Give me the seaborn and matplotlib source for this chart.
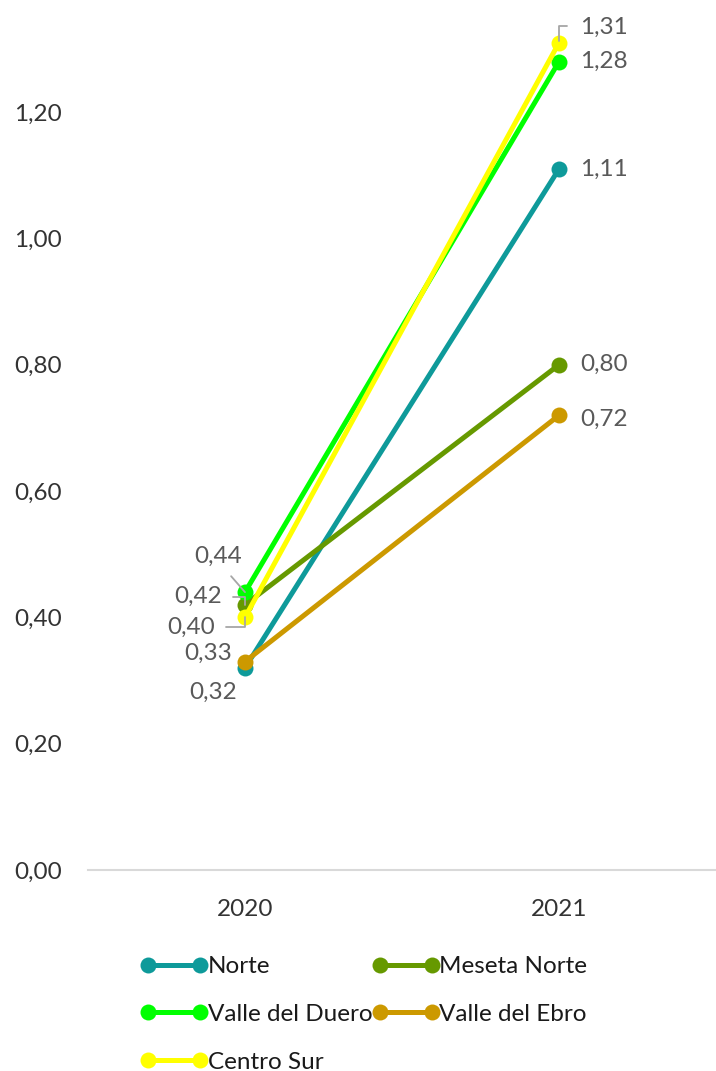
import numpy as np
import pandas as pd
import matplotlib
matplotlib.use("Agg")
import matplotlib.pyplot as plt
import seaborn as sns

# data
years = ["2020", "2021"]
regions = ["Norte", "Meseta Norte", "Valle del Duero", "Valle del Ebro", "Centro Sur"]
norte = [0.32, 1.11]
meseta_norte = [0.42, 0.80]
valle_duero = [0.44, 1.28]
valle_ebro = [0.33, 0.72]
centro_sur = [0.40, 1.31]
colors = ["#0E9A9A", "#669900", "#00FF00", "#CC9900", "#FFFF00"]

series = [norte, meseta_norte, valle_duero, valle_ebro, centro_sur]
rows = []
for name, vals in zip(regions, series):
    for yr, v in zip(years, vals):
        rows.append({"year": yr, "value": v, "region": name})
df = pd.DataFrame(rows)

sns.set_theme(style="white")
plt.rcParams["font.family"] = ["Lato", "DejaVu Sans"]

fig = plt.figure(figsize=(7.16, 10.71), dpi=100)
ax = fig.add_axes([88 / 716, 1 - 870 / 1071, 1 - 88 / 716, 870 / 1071])

sns.lineplot(data=df, x="year", y="value", hue="region", hue_order=regions,
             palette=colors, marker="o", markersize=11.5, markeredgewidth=0,
             linewidth=3.6, ax=ax, legend=True)

ax.set_xlim(-0.5, 1.5)
ax.set_ylim(0, 870 / (126.3 / 0.2))
ticks = np.arange(0, 1.21, 0.2)
ax.set_yticks(ticks)
ax.set_yticklabels([f"{t:.2f}".replace(".", ",") for t in ticks])
ax.set_xlabel("")
ax.set_ylabel("")
ax.tick_params(axis="y", length=0, pad=19, labelsize=17.5, labelcolor="#333333")
ax.tick_params(axis="x", length=0, pad=21, labelsize=17.5, labelcolor="#333333")
for s in ["left", "right", "top"]:
    ax.spines[s].set_visible(False)
ax.spines["bottom"].set_color("#d9d9d9")
ax.spines["bottom"].set_linewidth(1.5)

# data labels: offset (pixels, up is positive) from the point
offsets = {
    ("Norte", 0): (-32, -24), ("Norte", 1): (45, 0),
    ("Meseta Norte", 0): (-47, 8), ("Meseta Norte", 1): (45, 0),
    ("Valle del Duero", 0): (-27, 36), ("Valle del Duero", 1): (45, 0),
    ("Valle del Ebro", 0): (-37, 8), ("Valle del Ebro", 1): (45, -4),
    ("Centro Sur", 0): (-54, -10), ("Centro Sur", 1): (45, 15),
}
# leader lines: (relpos on text, connection style, shrinkA, shrinkB)
leaders = {
    ("Valle del Duero", 0): ((0.6, 0.0), "arc3", 6, 0),
    ("Meseta Norte", 0): ((1.0, 0.5), "angle,angleA=0,angleB=90,rad=0", 6, 0),
    ("Centro Sur", 0): ((1.0, 0.5), "angle,angleA=0,angleB=90,rad=0", 6, 0),
    ("Centro Sur", 1): ((0.0, 0.6), "angle,angleA=0,angleB=90,rad=0", 7, 1),
}
for name, vals in zip(regions, series):
    for i, v in enumerate(vals):
        dx, dy = offsets[(name, i)]
        kw = {}
        if (name, i) in leaders:
            rp, cs, sa, sb = leaders[(name, i)]
            kw["arrowprops"] = dict(arrowstyle="-", color="#a6a6a6", lw=1.3,
                                    relpos=rp, connectionstyle=cs,
                                    shrinkA=sa, shrinkB=sb)
        ax.annotate(f"{v:.2f}".replace(".", ","), xy=(i, v), xytext=(dx, dy),
                    textcoords="offset pixels", ha="center", va="center",
                    fontsize=17.5, color="#595959", annotation_clip=False, **kw)

handles, labels = ax.get_legend_handles_labels()
ax.get_legend().remove()
order = [0, 2, 4, 1, 3]  # row-wise fill: Norte, Meseta / Duero, Ebro / Centro Sur
fig.legend([handles[k] for k in order], [labels[k] for k in order],
           loc="upper left", bbox_to_anchor=(141 / 716, 1 - 956 / 1071),
           ncol=2, frameon=False, fontsize=17.5, numpoints=2, handlelength=2.74,
           handletextpad=0.0, columnspacing=0.0, labelspacing=1.1,
           borderpad=0, borderaxespad=0, labelcolor="#1a1a1a")

fig.savefig("out.png", dpi=100)
